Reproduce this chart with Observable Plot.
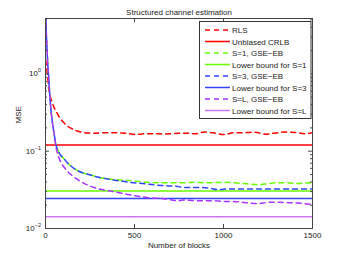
<!DOCTYPE html>
<html><head><meta charset="utf-8">
<script src="https://cdn.jsdelivr.net/npm/d3@7"></script>
<script src="https://cdn.jsdelivr.net/npm/@observablehq/plot@0.6"></script>
<style>body{margin:0;background:#fff;} #chart svg{display:block;}</style>
</head><body><div id="chart"></div>
<script>
// ---- data ----
const title = "Structured channel estimation";
const xLabel = "Number of blocks";
const yLabel = "MSE";
const xTicks = [0, 500, 1000, 1500];
const yTicks = [0.01, 0.1, 1];
const yTickExp = ["\u22122", "\u22121", "0"];
const yMinorTicks = [0.02,0.03,0.04,0.05,0.06,0.07,0.08,0.09,0.2,0.3,0.4,0.5,0.6,0.7,0.8,0.9,2,3,4,5];

const rlsX = [1,9,19,28,37,50,65,80,95,112,140,170,200,230,281,340,393,449,505,561,617,673,748,786,842,898,954,1001,1057,1122,1178,1234,1290,1346,1402,1459,1500];
const rlsY = [1.5,1.06,0.64,0.5,0.43,0.36,0.31,0.27,0.245,0.222,0.2,0.185,0.177,0.172,0.171,0.173,0.173,0.171,0.164,0.168,0.168,0.167,0.17,0.171,0.168,0.177,0.171,0.164,0.173,0.174,0.176,0.166,0.172,0.177,0.175,0.168,0.174];

const s1X = [1,5,9,13,19,24,32,41,50,56,75,103,140,187,243,299,355,468,561,673,767,842,898,954,1019,1075,1131,1187,1243,1299,1355,1412,1468,1500];
const s1Y = [6,3.2,2.0,1.3,0.83,0.53,0.32,0.216,0.16,0.13,0.097,0.08,0.065,0.055,0.05,0.046,0.0438,0.0417,0.0396,0.039,0.039,0.0396,0.039,0.0393,0.0395,0.0388,0.0378,0.037,0.0378,0.039,0.039,0.0382,0.0388,0.039];

const s3X = [1,5,9,13,19,24,32,41,50,56,75,103,140,187,243,299,355,468,561,650,748,776,850,925,972,1028,1084,1140,1196,1252,1309,1365,1421,1477,1500];
const s3Y = [6,3.2,2.0,1.3,0.83,0.53,0.32,0.216,0.16,0.13,0.097,0.08,0.065,0.055,0.05,0.046,0.0435,0.0396,0.0378,0.036,0.0348,0.034,0.034,0.0331,0.0318,0.0325,0.0325,0.0325,0.0324,0.0325,0.0325,0.0325,0.0325,0.0325,0.0325];

const sLX = [1,5,9,13,19,24,32,41,50,56,75,112,150,196,243,299,374,468,561,673,748,776,850,925,1001,1075,1140,1196,1252,1309,1365,1421,1477,1500];
const sLY = [6,3.2,2.0,1.3,0.83,0.53,0.32,0.216,0.16,0.125,0.0836,0.059,0.0483,0.0408,0.0359,0.0325,0.0302,0.0274,0.0253,0.0241,0.0229,0.0234,0.0229,0.0229,0.0224,0.0222,0.0214,0.021,0.0218,0.0218,0.0216,0.0213,0.0207,0.0206];

const crlb = 0.12, lb1 = 0.0306, lb3 = 0.0245, lbL = 0.0142;

const legendLabels = ["RLS","Unbiased CRLB","S=1, GSE\u2212EB","Lower bound for S=1","S=3, GSE\u2212EB","Lower bound for S=3","S=L, GSE\u2212EB","Lower bound for S=L"];
const legendColors = ["#ff0000","#ff0000","#66ff00","#66ff00","#3344ff","#3344ff","#aa33ff","#cc77f5"];
const legendDashed = [true,false,true,false,true,false,true,false];

// ---- build ----
const toRows = (xs, ys) => xs.map((x, i) => ({x, y: ys[i]}));
const dash = "5,4";
const lw = 1.5;
const axisColor = "#444";
const font = "'Liberation Sans', Arial, sans-serif";

const chart = Plot.plot({
  width: 345, height: 257,
  marginLeft: 45, marginRight: 33, marginTop: 18, marginBottom: 29,
  style: {fontFamily: font, fontSize: "8px", background: "#fff", color: "#222"},
  x: {domain: [0, 1500], label: null},
  y: {type: "log", domain: [0.01, 5.2], label: null},
  marks: [
    Plot.line(toRows(rlsX, rlsY), {x: "x", y: "y", stroke: legendColors[0], strokeWidth: lw, strokeDasharray: dash, curve: "monotone-x", clip: true}),
    Plot.ruleY([crlb], {stroke: legendColors[1], strokeWidth: lw}),
    Plot.line(toRows(s1X, s1Y), {x: "x", y: "y", stroke: legendColors[2], strokeWidth: lw, strokeDasharray: dash, curve: "monotone-x", clip: true}),
    Plot.ruleY([lb1], {stroke: legendColors[3], strokeWidth: lw}),
    Plot.line(toRows(s3X, s3Y), {x: "x", y: "y", stroke: legendColors[4], strokeWidth: lw, strokeDasharray: dash, strokeDashoffset: 4, curve: "monotone-x", clip: true}),
    Plot.ruleY([lb3], {stroke: legendColors[5], strokeWidth: lw}),
    Plot.line(toRows(sLX, sLY), {x: "x", y: "y", stroke: legendColors[6], strokeWidth: lw, strokeDasharray: dash, curve: "monotone-x", clip: true}),
    Plot.ruleY([lbL], {stroke: legendColors[7], strokeWidth: lw}),
    Plot.ruleY(yTicks, {x1: 0, x2: 22, stroke: axisColor}),
    Plot.ruleY(yTicks, {x1: 1478, x2: 1500, stroke: axisColor}),
    Plot.ruleY(yMinorTicks, {x1: 0, x2: 11, stroke: axisColor}),
    Plot.ruleY(yMinorTicks, {x1: 1489, x2: 1500, stroke: axisColor}),
    Plot.ruleX(xTicks, {y1: 0.01, y2: 0.0113, stroke: axisColor}),
    Plot.ruleX(xTicks, {y1: 5.2 / 1.13, y2: 5.2, stroke: axisColor}),
    Plot.frame({stroke: axisColor, strokeWidth: 1}),
    Plot.axisX(xTicks, {tickSize: 0, tickPadding: 4, fontSize: 8, label: null, tickFormat: d => String(d)}),
    Plot.axisY({ticks: [], tickSize: 0, label: null}),
    Plot.text([title], {frameAnchor: "top", dy: -9, fontSize: 8, fill: "#222"}),
    Plot.text([xLabel], {frameAnchor: "bottom", dy: 19, fontSize: 8, fill: "#222"}),
    Plot.text([yLabel], {frameAnchor: "left", dx: -27, rotate: -90, fontSize: 8, fill: "#222"})
  ]
});

document.getElementById("chart").appendChild(chart);

const svg = d3.select(chart);
const ys = chart.scale("y");
const g = svg.append("g").attr("font-family", font).attr("fill", "#222").attr("text-anchor", "end");
yTicks.forEach((v, i) => {
  const t = g.append("text").attr("x", 41).attr("y", ys.apply(v) + 3).attr("text-anchor", "end").attr("font-size", 8);
  t.append("tspan").text("10");
  t.append("tspan").attr("dy", -4).attr("font-size", 5.5).text(yTickExp[i]);
});

const lg = svg.append("g").attr("font-family", font).attr("font-size", 8).attr("text-anchor", "start");
const bx = 199.5, by = 21.5, bw = 111.5, bh = 97;
lg.append("rect").attr("x", bx).attr("y", by).attr("width", bw).attr("height", bh).attr("fill", "#fff").attr("stroke", "#333").attr("stroke-width", 1);
legendLabels.forEach((lab, i) => {
  const cy = 30 + i * 11.5;
  lg.append("line").attr("x1", 205).attr("x2", 230).attr("y1", cy).attr("y2", cy)
    .attr("stroke", legendColors[i]).attr("stroke-width", lw)
    .attr("stroke-dasharray", legendDashed[i] ? dash : null);
  lg.append("text").attr("x", 232).attr("y", cy + 3).attr("fill", "#222").attr("text-anchor", "start").text(lab);
});
</script>
</body></html>
